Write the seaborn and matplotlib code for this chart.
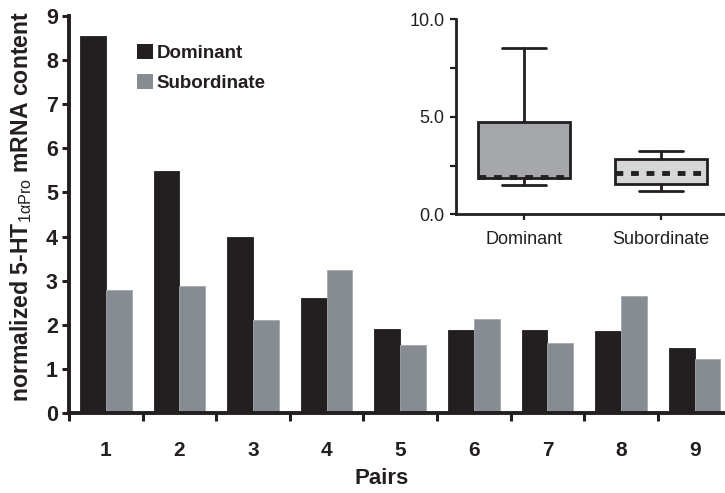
import numpy as np
import pandas as pd
import matplotlib
matplotlib.use("Agg")
import matplotlib.pyplot as plt
from matplotlib import cbook
from matplotlib.ticker import FixedLocator, NullFormatter
import seaborn as sns

# ---- data ----
pairs = ["1", "2", "3", "4", "5", "6", "7", "8", "9"]
groups = ["Dominant", "Subordinate"]
dominant = [8.55, 5.48, 3.99, 2.60, 1.90, 1.89, 1.89, 1.85, 1.48]
subordinate = [2.78, 2.87, 2.10, 3.24, 1.54, 2.13, 1.58, 2.65, 1.22]
y_ticks = [0, 1, 2, 3, 4, 5, 6, 7, 8, 9]
inset_ticks = [0.0, 5.0, 10.0]
inset_labels = ["0.0", "5.0", "10.0"]

bar_colors = ["#231f20", "#868c92"]
box_colors = ["#a6a7aa", "#d5d6d8"]

sns.set_theme(style="ticks")
plt.rcParams["font.family"] = ["Liberation Sans", "DejaVu Sans"]
plt.rcParams["mathtext.fontset"] = "custom"
plt.rcParams["mathtext.rm"] = "Liberation Sans"
plt.rcParams["mathtext.it"] = "Liberation Sans:italic"
plt.rcParams["mathtext.bf"] = "Liberation Sans:bold"

df = pd.DataFrame({
    "pair": pairs * 2,
    "group": [groups[0]] * len(pairs) + [groups[1]] * len(pairs),
    "value": dominant + subordinate,
})

fig = plt.figure(figsize=(7.25, 4.93), dpi=100)
ax = fig.add_axes([69 / 725, 80 / 493, 656 / 725, 397 / 493])

sns.barplot(data=df, x="pair", y="value", hue="group", order=pairs,
            hue_order=groups, palette=bar_colors, saturation=1, width=0.7,
            gap=0, errorbar=None, ax=ax, edgecolor="none")
for patch, ec in zip(ax.patches, [bar_colors[0]] * 9 + ["#a3a9ae"] * 9):
    patch.set_edgecolor(ec)
    patch.set_linewidth(0.6)

ax.set_xlim(-0.5, -0.5 + 656 / 73.6)
ax.set_ylim(0, 9)
ax.set_yticks(y_ticks)
ax.set_yticklabels([str(t) for t in y_ticks])
ax.xaxis.set_minor_locator(FixedLocator(np.arange(-0.5, 9.0, 1.0)))
ax.xaxis.set_minor_formatter(NullFormatter())
ax.tick_params(axis="x", which="major", length=0, pad=20, labelsize=15)
ax.tick_params(axis="x", which="minor", length=6, width=2.2, direction="out", color="#231f20")
ax.tick_params(axis="y", length=5, width=2.2, pad=3, labelsize=15.5, color="#231f20")
for lab in ax.get_xticklabels() + ax.get_yticklabels():
    lab.set_fontweight("bold")
    lab.set_color("#231f20")

sns.despine(ax=ax)
for s in ["left", "bottom"]:
    ax.spines[s].set_linewidth(2.8)
    ax.spines[s].set_color("#231f20")

ax.set_xlabel("Pairs", fontsize=16, fontweight="bold", color="#231f20")
ax.xaxis.set_label_coords(0.477, -0.138)
ax.set_ylabel(r"normalized 5-HT$_{\mathrm{1\alpha Pro}}$ mRNA content",
              fontsize=16.6, fontweight="bold", color="#231f20")
ax.yaxis.set_label_coords(-0.054, 0.519)

leg = ax.legend(loc="upper left", bbox_to_anchor=(137 / 725, 1 - 44 / 493),
                bbox_transform=fig.transFigure, frameon=False, borderpad=0,
                handlelength=0.85, handleheight=0.85, handletextpad=0.2,
                labelspacing=0.62, borderaxespad=0,
                prop={"weight": "bold", "size": 13.5})
for t in leg.get_texts():
    t.set_color("#231f20")

# ---- inset box plot ----
iax = fig.add_axes([455.7 / 725, (493 - 214.3) / 493, (725 - 455.7) / 725, 195 / 493])
stats = []
for name, vals in zip(groups, [dominant, subordinate]):
    arr = np.asarray(vals)
    st = cbook.boxplot_stats(arr, whis=(0, 100))[0]
    st["q1"], st["med"], st["q3"] = np.percentile(arr, [25, 50, 75], method="weibull")
    st["whislo"], st["whishi"] = arr.min(), arr.max()
    st["fliers"] = np.array([])
    st["label"] = name
    stats.append(st)

bp = iax.bxp(stats, positions=[0, 1], widths=0.675, patch_artist=True,
             showfliers=False, capwidths=0.32,
             boxprops=dict(linewidth=2, edgecolor="#231f20"),
             whiskerprops=dict(linewidth=2, color="#231f20"),
             capprops=dict(linewidth=2, color="#231f20"),
             medianprops=dict(linewidth=3.5, color="#231f20", linestyle=(0, (1.6, 1.6))))
for patch, c in zip(bp["boxes"], box_colors):
    patch.set_facecolor(c)

iax.set_xlim(-0.5, 1.47)
iax.set_ylim(0, 10)
iax.set_yticks(inset_ticks)
iax.set_yticklabels(inset_labels)
iax.yaxis.set_minor_locator(FixedLocator([2.5, 7.5]))
iax.set_xticks([0, 1])
iax.set_xticklabels(groups)
iax.tick_params(axis="both", which="major", labelsize=13, length=4, width=1.6,
                color="#231f20", labelcolor="#231f20", pad=4)
iax.tick_params(axis="y", which="minor", length=4, width=1.6, color="#231f20")
iax.tick_params(axis="x", pad=8)
iax.set_facecolor("none")
sns.despine(ax=iax)
for s in ["left", "bottom"]:
    iax.spines[s].set_linewidth(2)
    iax.spines[s].set_color("#231f20")

fig.savefig("out.png", dpi=100)
